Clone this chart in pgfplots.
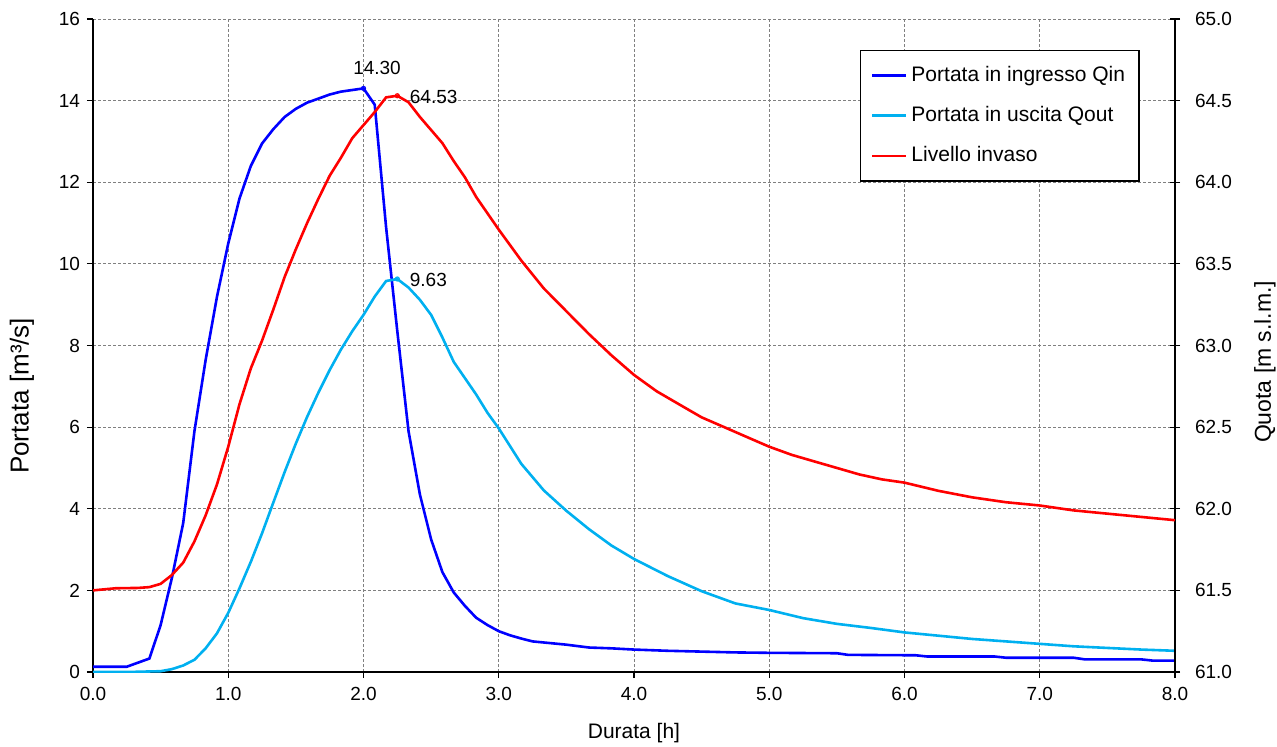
\documentclass[border=0pt]{standalone}
\usepackage{fontspec}
\setmainfont{Liberation Sans}
\usepackage{pgfplots}
\usepackage{pgfplotstable}
\pgfplotsset{compat=1.18}
\definecolor{qin}{RGB}{0,0,255}
\definecolor{qout}{RGB}{0,176,240}
\definecolor{liv}{RGB}{255,0,0}

\pgfplotstableread{
t q
0 0.13
0.25 0.13
0.417 0.33
0.5 1.15
0.583 2.3
0.667 3.65
0.75 5.9
0.833 7.65
0.917 9.2
1.0 10.5
1.083 11.6
1.167 12.4
1.25 12.95
1.333 13.3
1.417 13.6
1.5 13.8
1.583 13.95
1.667 14.05
1.75 14.15
1.833 14.22
1.917 14.26
2.0 14.30
2.083 13.9
2.167 10.9
2.25 8.35
2.333 5.9
2.417 4.35
2.5 3.25
2.583 2.45
2.667 1.95
2.75 1.62
2.833 1.33
2.917 1.15
3.0 1.0
3.083 0.9
3.167 0.82
3.25 0.75
3.5 0.67
3.667 0.6
3.833 0.58
4.0 0.55
4.25 0.52
4.5 0.5
4.75 0.48
5.0 0.47
5.5 0.46
5.583 0.42
6.083 0.41
6.167 0.38
6.667 0.38
6.75 0.35
7.25 0.35
7.333 0.31
7.75 0.31
7.833 0.28
8.0 0.28
}\qin

\pgfplotstableread{
t q
0 0.0
0.25 0.0
0.5 0.02
0.583 0.07
0.667 0.16
0.75 0.3
0.833 0.58
0.917 0.95
1.0 1.45
1.083 2.05
1.167 2.7
1.25 3.4
1.333 4.15
1.417 4.9
1.5 5.6
1.583 6.25
1.667 6.85
1.75 7.4
1.833 7.9
1.917 8.35
2.0 8.75
2.083 9.2
2.167 9.58
2.25 9.63
2.333 9.42
2.417 9.12
2.5 8.75
2.583 8.2
2.667 7.6
2.75 7.2
2.833 6.8
2.917 6.35
3.0 5.97
3.167 5.1
3.333 4.45
3.5 3.95
3.667 3.5
3.833 3.1
4.0 2.77
4.25 2.35
4.5 1.98
4.75 1.68
5.0 1.52
5.25 1.32
5.5 1.18
5.75 1.08
6.0 0.97
6.25 0.89
6.5 0.81
6.75 0.75
7.0 0.69
7.25 0.63
7.5 0.59
7.75 0.55
8.0 0.52
}\qout

\pgfplotstableread{
t h
0 61.5
0.167 61.513
0.333 61.515
0.417 61.52
0.5 61.54
0.583 61.594
0.667 61.67
0.75 61.8
0.833 61.96
0.917 62.15
1.0 62.38
1.083 62.64
1.167 62.86
1.25 63.03
1.333 63.22
1.417 63.42
1.5 63.59
1.583 63.75
1.667 63.9
1.75 64.04
1.833 64.15
1.917 64.27
2.0 64.35
2.083 64.43
2.167 64.52
2.25 64.53
2.333 64.49
2.417 64.4
2.5 64.32
2.583 64.24
2.667 64.13
2.75 64.03
2.833 63.91
3.0 63.71
3.167 63.52
3.333 63.35
3.5 63.21
3.667 63.07
3.833 62.94
4.0 62.82
4.167 62.72
4.333 62.64
4.5 62.56
4.667 62.5
4.833 62.44
5.0 62.38
5.167 62.33
5.333 62.29
5.5 62.25
5.667 62.21
5.833 62.18
6.0 62.16
6.25 62.11
6.5 62.07
6.75 62.04
7.0 62.02
7.25 61.99
7.5 61.97
7.75 61.95
8.0 61.93
}\liv

\begin{document}
\begin{tikzpicture}[font=\fontsize{9.5}{11}\selectfont]
\useasboundingbox (-46.5pt,-37pt) rectangle (592pt,336pt);
\begin{axis}[
  name=ax, at={(0,0)}, anchor=south west,
  width=541pt, height=326.5pt, scale only axis,
  xmin=0, xmax=8, ymin=0, ymax=16,
  xtick={0,1,...,8}, ytick={0,2,...,16},
  axis y line*=left, axis x line*=bottom,
  axis line style={line width=1pt, black},
  tick align=outside, major tick length=3pt,
  tick style={black, line width=0.6pt},
  grid=major,
  grid style={gray, dash pattern=on 1.5pt off 1pt, line width=0.4pt},
  /pgf/number format/assume math mode=true,
  xticklabel style={yshift=-1pt, /pgf/number format/.cd, fixed, fixed zerofill, precision=1},
  tick label style={font=\fontsize{9.5}{11}\selectfont},
  xlabel={Durata [h]},
  ylabel={Portata [m³/s]},
  xlabel style={at={(axis description cs:0.5,-0.094)}, anchor=center, font=\fontsize{10.5}{12}\selectfont},
  ylabel style={at={(axis description cs:-0.0656,0.423)}, anchor=center, font=\fontsize{13}{15}\selectfont},
]
\addplot[qin, line width=1.3pt] table[x=t, y=q] {\qin};
\addplot[qout, line width=1.3pt] table[x=t, y=q] {\qout};
\addplot[qin, only marks, mark=o, mark size=1pt, mark options={line width=0.6pt}] coordinates {(2.0,14.30)};
\addplot[qout, only marks, mark=o, mark size=1pt, mark options={line width=0.6pt}] coordinates {(2.25,9.63)};
\node[anchor=center] at (axis cs:2.10,14.80) {14.30};
\node[anchor=west, inner sep=0pt] at (axis cs:2.34,9.60) {9.63};
\end{axis}
\begin{axis}[
  at={(0,0)}, anchor=south west,
  width=541pt, height=326.5pt, scale only axis,
  xmin=0, xmax=8, ymin=61, ymax=65,
  ytick={61,61.5,...,65},
  axis y line*=right, axis x line=none,
  axis line style={line width=1pt, black},
  tick align=center, major tick length=5pt,
  tick style={black, line width=0.6pt},
  /pgf/number format/assume math mode=true,
  yticklabel style={xshift=4pt, /pgf/number format/.cd, fixed, fixed zerofill, precision=1},
  tick label style={font=\fontsize{9.5}{11}\selectfont},
  ylabel={Quota [m s.l.m.]},
  ylabel style={at={(axis description cs:1.0832,0.475)}, anchor=center, font=\fontsize{11.5}{13}\selectfont},
  legend cell align=left,
  legend style={at={(0.709,0.953)}, anchor=north west, draw=black, line width=0.6pt,
    font=\fontsize{10.5}{12}\selectfont, row sep=7pt, inner xsep=5pt, inner ysep=6pt},
  legend image post style={line width=1.3pt},
]
\addlegendimage{qin, line width=1.3pt}
\addlegendentry{Portata in ingresso Qin}
\addlegendimage{qout, line width=1.3pt}
\addlegendentry{Portata in uscita Qout}
\addplot[liv, line width=1.3pt] table[x=t, y=h] {\liv};
\addlegendentry{Livello invaso}
\addplot[liv, only marks, mark=o, mark size=1pt, mark options={line width=0.6pt}, forget plot] coordinates {(2.25,64.53)};
\node[anchor=west, inner sep=0pt] at (axis cs:2.34,64.52) {64.53};
\end{axis}
\end{tikzpicture}
\end{document}
